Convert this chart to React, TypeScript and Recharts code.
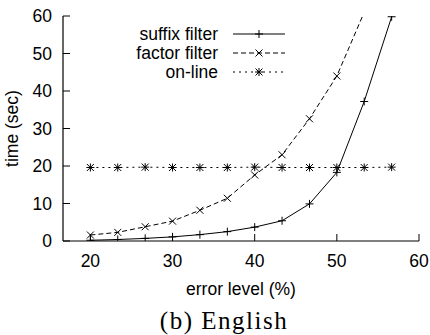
import { LineChart, Line, XAxis, YAxis, Legend, Label } from 'recharts'

const errorLevel = [20, 23.33, 26.67, 30, 33.33, 36.67, 40, 43.33, 46.67, 50, 53.33, 56.67]
const suffixTime = [0.2, 0.4, 0.7, 1.1, 1.7, 2.5, 3.7, 5.4, 9.9, 18.3, 37.2, 59.8]
const factorTime = [1.6, 2.3, 3.8, 5.3, 8.2, 11.4, 17.6, 23.0, 32.6, 44.0, 61.0, null]
const onlineTime = [19.6, 19.6, 19.7, 19.6, 19.6, 19.6, 19.7, 19.6, 19.6, 19.6, 19.6, 19.7]
const xTicks = [20, 30, 40, 50, 60]
const yTicks = [0, 10, 20, 30, 40, 50, 60]

const SERIES = [
  { key: 'suffix', label: 'suffix filter', dash: undefined, mark: 'plus' },
  { key: 'factor', label: 'factor filter', dash: '5 3', mark: 'cross' },
  { key: 'online', label: 'on-line', dash: '2 4', mark: 'star' },
]

const data = errorLevel.map((x, i) => ({
  x,
  suffix: suffixTime[i],
  factor: factorTime[i],
  online: onlineTime[i],
}))

const FONT = '"Liberation Sans", Arial, sans-serif'
const INK = '#000'

function Mark({ type, cx, cy }: { type: string; cx: number; cy: number }) {
  const s = 4
  const d = 3.5
  const plus = `M${cx - s},${cy}H${cx + s}M${cx},${cy - s}V${cy + s}`
  const cross = `M${cx - d},${cy - d}L${cx + d},${cy + d}M${cx - d},${cy + d}L${cx + d},${cy - d}`
  const path = type === 'plus' ? plus : type === 'cross' ? cross : plus + cross
  return <path d={path} stroke={INK} strokeWidth={1} fill="none" />
}

const dotFor = (type: string, name: string) => (p: any) => {
  if (p.cy == null || p.cx == null || p.value == null) return <g key={`${name}-${p.index}`} />
  return (
    <g key={`${name}-${p.index}`}>
      <Mark type={type} cx={p.cx} cy={p.cy} />
    </g>
  )
}

function KeyBox() {
  return (
    <svg width={170} height={60}>
      {SERIES.map((s, i) => {
        const y = 10 + i * 19
        return (
          <g key={s.key}>
            <text x={98} y={y} dy="0.35em" textAnchor="end" fontFamily={FONT} fontSize={17.5} fill={INK}>
              {s.label}
            </text>
            <line x1={113} x2={165} y1={y} y2={y} stroke={INK} strokeWidth={1} strokeDasharray={s.dash} />
            <Mark type={s.mark} cx={139} cy={y} />
          </g>
        )
      })}
    </svg>
  )
}

export default function App() {
  const tick = { fontFamily: FONT, fontSize: 17.5, fill: INK }
  return (
    <div style={{ position: 'relative', width: 430, height: 335, background: '#fff' }}>
      <style>{'body{margin:0}'}</style>
      <LineChart width={430} height={335} data={data} margin={{ top: 16, right: 11, bottom: 0, left: 0 }}>
        <XAxis
          dataKey="x"
          type="number"
          domain={[16.667, 60]}
          ticks={xTicks}
          allowDataOverflow
          height={94}
          tickSize={-7}
          tickMargin={21}
          tick={tick}
          axisLine={{ stroke: INK, strokeWidth: 1.2 }}
          tickLine={{ stroke: INK }}
        >
          <Label
            content={({ viewBox }: any) => (
              <text
                x={viewBox.x + viewBox.width / 2}
                y={viewBox.y + 48}
                dy="0.35em"
                textAnchor="middle"
                fontFamily={FONT}
                fontSize={17.5}
                fill={INK}
              >
                error level (%)
              </text>
            )}
          />
        </XAxis>
        <XAxis
          xAxisId="top"
          orientation="top"
          dataKey="x"
          type="number"
          domain={[16.667, 60]}
          ticks={xTicks}
          allowDataOverflow
          height={0}
          tickSize={-7}
          tickFormatter={() => ''}
          axisLine={{ stroke: INK, strokeWidth: 1.2 }}
          tickLine={{ stroke: INK }}
        />
        <YAxis
          type="number"
          domain={[0, 60]}
          ticks={yTicks}
          allowDataOverflow
          width={63}
          tickSize={-7}
          tickMargin={18}
          tick={tick}
          axisLine={{ stroke: INK, strokeWidth: 1.2 }}
          tickLine={{ stroke: INK }}
        >
          <Label
            content={({ viewBox }: any) => {
              const cx = 12
              const cy = viewBox.y + viewBox.height / 2
              return (
                <text
                  x={cx}
                  y={cy}
                  dy="0.35em"
                  textAnchor="middle"
                  transform={`rotate(-90 ${cx} ${cy})`}
                  fontFamily={FONT}
                  fontSize={17.5}
                  fill={INK}
                >
                  time (sec)
                </text>
              )
            }}
          />
        </YAxis>
        <YAxis
          yAxisId="right"
          orientation="right"
          type="number"
          domain={[0, 60]}
          ticks={yTicks}
          width={0}
          tickSize={-7}
          tickFormatter={() => ''}
          axisLine={{ stroke: INK, strokeWidth: 1.2 }}
          tickLine={{ stroke: INK }}
        />
        <Legend
          layout="horizontal"
          verticalAlign="middle"
          content={() => <KeyBox />}
          wrapperStyle={{ position: 'absolute', left: 120, top: 24, width: 170, height: 60 }}
        />
        {SERIES.map((s) => (
          <Line
            key={s.key}
            dataKey={s.key}
            stroke={INK}
            strokeWidth={1}
            strokeDasharray={s.dash}
            dot={dotFor(s.mark, s.key)}
            activeDot={false}
            isAnimationActive={false}
          />
        ))}
      </LineChart>
      <div
        style={{
          position: 'absolute',
          left: 0,
          width: 448,
          top: 306,
          textAlign: 'center',
          fontFamily: '"Liberation Serif", serif',
          fontSize: 25,
          letterSpacing: 1.5,
          lineHeight: '30px',
          color: INK,
        }}
      >
        (b) English
      </div>
    </div>
  )
}
